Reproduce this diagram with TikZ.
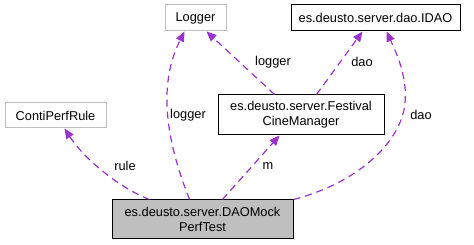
\documentclass[tikz,border=0pt]{standalone}
\usepackage{fontspec}
\setmainfont{Liberation Sans}
\usetikzlibrary{arrows.meta}
\definecolor{edgecol}{HTML}{9A32CD}
\definecolor{boxgray}{HTML}{BFBFBF}
\tikzset{
  cls/.style={draw=black, line width=1pt, fill=white, inner sep=0pt, align=center,
    font=\fontsize{12.8}{15}\selectfont},
  extcls/.style={cls, draw=boxgray},
  focus/.style={cls, fill=boxgray},
  uses/.style={draw=edgecol, line width=1.2pt, dash pattern=on 7pt off 5pt,
    -{Triangle[length=10pt,width=8.5pt,fill=edgecol]}},
  lbl/.style={inner sep=0pt, font=\fontsize{12.8}{15}\selectfont}
}
\begin{document}
\begin{tikzpicture}[x=1pt, y=-1pt]
\useasboundingbox (0,0) rectangle (474,245);

% classes
\node[extcls, minimum width=61pt, minimum height=26pt] (log) at (195.5,18) {Logger};
\node[cls, minimum width=169pt, minimum height=26pt] (idao) at (375.5,18) {es.deusto.server.dao.IDAO};
\node[extcls, minimum width=101pt, minimum height=25pt] (rule) at (55.5,115.5) {ContiPerfRule};
\node[cls, minimum width=166pt, minimum height=40pt] (fcm) at (301,115) {es.deusto.server.Festival\\CineManager};
\node[focus, minimum width=181pt, minimum height=39pt] (test) at (202.5,219.5) {es.deusto.server.DAOMock\\PerfTest};

% usage relations
\draw[uses] ([xshift=38pt]test.north west) .. controls (120,188) and (85,160) .. ([xshift=60pt]rule.south west);
\draw[uses] ([xshift=78pt]test.north west) .. controls (170,150) and (155,90) .. ([xshift=20pt]log.south west);
\draw[uses] ([xshift=57pt]fcm.north west) -- ([xshift=42pt]log.south west);
\draw[uses] ([xshift=99pt]fcm.north west) -- ([xshift=72pt]idao.south west);
\draw[uses] ([xshift=111pt]test.north west) -- ([xshift=62pt]fcm.south west);
\draw[uses] (test.north east) .. controls (350,185) and (395,150) .. (404,110)
  .. controls (410,80) and (395,50) .. ([xshift=96pt]idao.south west);

% labels
\node[lbl] (lrule) at (125,166) {rule};
\node[lbl] (llog1) at (188,115) {logger};
\node[lbl] (llog2) at (273,62) {logger};
\node[lbl] (ldao1) at (362,62) {dao};
\node[lbl] (lm) at (268,166) {m};
\node[lbl] (ldao2) at (421,115) {dao};
\end{tikzpicture}
\end{document}
